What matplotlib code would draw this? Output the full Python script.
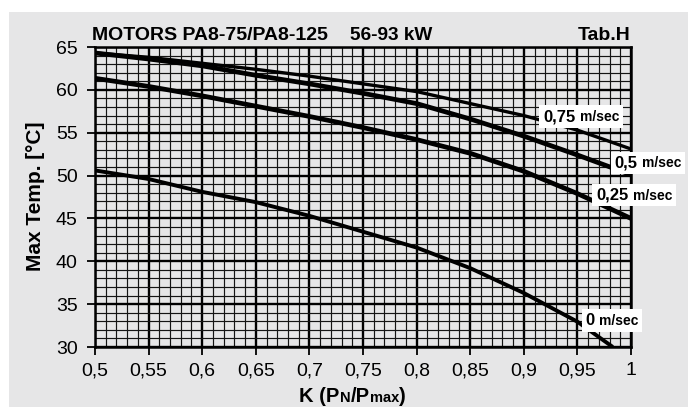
import matplotlib
matplotlib.use("Agg")
import matplotlib.pyplot as plt
from matplotlib.patches import Rectangle
from matplotlib.offsetbox import TextArea, HPacker, AnnotationBbox
from matplotlib.ticker import MultipleLocator, FuncFormatter

# ---------------- data ----------------
k_vals = [0.5, 0.55, 0.6, 0.65, 0.7, 0.75, 0.8, 0.85, 0.9, 0.95, 1.0]
temp_075 = [64.3, 63.8, 63.1, 62.4, 61.6, 60.7, 59.8, 58.4, 57.0, 55.3, 53.1]
temp_050 = [64.3, 63.6, 62.8, 61.7, 60.7, 59.6, 58.4, 56.6, 54.6, 52.4, 50.1]
temp_025 = [61.35, 60.4, 59.3, 58.1, 56.9, 55.6, 54.2, 52.6, 50.5, 47.9, 45.0]
k_vals_0 = [0.5, 0.55, 0.6, 0.65, 0.7, 0.75, 0.8, 0.85, 0.9, 0.95, 0.983]
temp_000 = [50.6, 49.6, 48.1, 46.9, 45.3, 43.45, 41.6, 39.2, 36.3, 32.95, 30.0]

speed_nums = ["0,75", "0,5", "0,25", "0"]
speed_unit = "m/sec"
x_ticks = [0.5, 0.55, 0.6, 0.65, 0.7, 0.75, 0.8, 0.85, 0.9, 0.95, 1.0]
y_ticks = [30, 35, 40, 45, 50, 55, 60, 65]
title_left = "MOTORS PA8-75/PA8-125"
title_mid = "56-93 kW"
title_right = "Tab.H"
y_label = "Max Temp. [°C]"

# ---------------- style ----------------
FONT = ["Liberation Sans", "DejaVu Sans"]
plt.rcParams["font.family"] = FONT
BG = "#e6e6e7"
W, H = 688, 407

fig = plt.figure(figsize=(W / 100, H / 100), dpi=100)
fig.patch.set_facecolor("white")
fig.add_artist(Rectangle((9 / W, 0), 1 - 9 / W, (H - 12) / H, transform=fig.transFigure,
                         facecolor=BG, edgecolor="none", zorder=-10))

ax = fig.add_axes([95 / W, (H - 347) / H, 536 / W, 300 / H])
ax.set_facecolor(BG)
ax.set_xlim(0.5, 1.0)
ax.set_ylim(30, 65)

ax.xaxis.set_major_locator(MultipleLocator(0.05))
ax.xaxis.set_minor_locator(MultipleLocator(0.01))
ax.yaxis.set_major_locator(MultipleLocator(5))
ax.yaxis.set_minor_locator(MultipleLocator(1))
ax.set_xticks(x_ticks)
ax.set_yticks(y_ticks)
ax.xaxis.set_major_formatter(FuncFormatter(lambda v, p: ("%g" % round(v, 2)).replace(".", ",")))
ax.yaxis.set_major_formatter(FuncFormatter(lambda v, p: "%d" % v))

ax.grid(which="minor", color="#141414", linewidth=0.85, zorder=1)
ax.grid(which="major", color="black", linewidth=1.7, zorder=1)
ax.set_axisbelow(True)
for s in ax.spines.values():
    s.set_color("black")
    s.set_linewidth(1.8)

ax.tick_params(which="major", direction="out", length=5.5, width=1.3, color="black",
               labelsize=14, pad=5.5)
ax.tick_params(axis="y", which="major", pad=7)
ax.tick_params(which="minor", length=0)

# curves
ax.plot(k_vals, temp_075, color="black", lw=2.4, zorder=3, solid_capstyle="butt")
ax.plot(k_vals, temp_050, color="black", lw=3.4, zorder=3, solid_capstyle="butt")
ax.plot(k_vals, temp_025, color="black", lw=3.4, zorder=3, solid_capstyle="butt")
ax.plot(k_vals_0, temp_000, color="black", lw=2.8, zorder=3, solid_capstyle="butt")

# speed labels
label_pos = [(0.9534, 56.89), (1.0159, 51.47), (1.0028, 47.73), (0.9823, 33.09)]
for num, (lx, ly) in zip(speed_nums, label_pos):
    t1 = TextArea(num, textprops=dict(fontsize=12, fontweight="bold", family=FONT))
    t2 = TextArea(speed_unit, textprops=dict(fontsize=10, fontweight="bold", family=FONT))
    box = HPacker(children=[t1, t2], align="baseline", pad=0, sep=3)
    ab = AnnotationBbox(box, (lx, ly), xycoords="data", frameon=True, pad=0.28,
                        box_alignment=(0.5, 0.5), annotation_clip=False,
                        bboxprops=dict(facecolor="white", edgecolor="none"), zorder=5)
    ax.add_artist(ab)

# titles
fig.text(92 / W, 1 - 39.5 / H, title_left, fontsize=14, fontweight="bold", ha="left", va="baseline")
fig.text(350 / W, 1 - 39.5 / H, title_mid, fontsize=13.7, fontweight="bold", ha="left", va="baseline")
fig.text(630 / W, 1 - 39.5 / H, title_right, fontsize=14, fontweight="bold", ha="right", va="baseline")

# y label
fig.text(36 / W, 1 - 196.5 / H, y_label, fontsize=15, fontweight="bold", rotation=90,
         ha="center", va="center")

# x label with small-size subscripts
parts = [("K (P", 14.5), ("N", 10.5), ("/P", 14.5), ("max", 10.5), (")", 14.5)]
children = [TextArea(t, textprops=dict(fontsize=s, fontweight="bold", family=FONT)) for t, s in parts]
xl = HPacker(children=children, align="baseline", pad=0, sep=0)
abx = AnnotationBbox(xl, (352.5, 10), xycoords="figure pixels", frameon=False,
                     box_alignment=(0.5, 0.5), annotation_clip=False)
fig.add_artist(abx)

fig.savefig("out.png", dpi=100, facecolor=fig.get_facecolor())
